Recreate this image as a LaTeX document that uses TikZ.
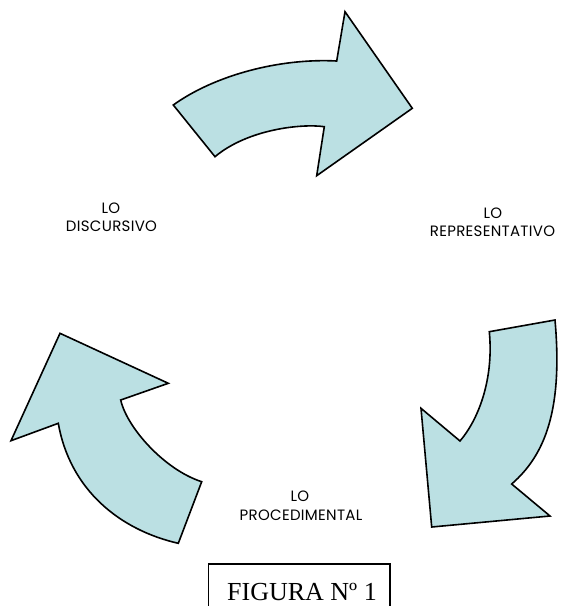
\documentclass[tikz,border=0pt]{standalone}
\usepackage{fontspec}
\newfontfamily\labelfont[LetterSpace=2]{Poppins}
\newfontfamily\captionfont{Liberation Serif}
\begin{document}
\begin{tikzpicture}[x=1pt,y=-1pt,
  cyclearrow/.style={draw=black,line width=1.6pt,fill=arrowfill,line join=miter},
  steplabel/.style={font=\labelfont\fontsize{15}{18}\selectfont,anchor=base,inner sep=0pt},
  captiontext/.style={font=\captionfont\fontsize{26}{30}\selectfont,anchor=base,inner sep=0pt}]
\definecolor{arrowfill}{RGB}{187,224,227}
\useasboundingbox (0,0) rectangle (562,606);

% upper arrow: from "lo discursivo" towards "lo representativo"
\path[cyclearrow] (173.3,105)
  .. controls (215,75) and (280,58) .. (336.7,61)
  -- (345,11.7) -- (412.3,108.3) -- (316.7,175.7) -- (324.3,126.7)
  .. controls (302,123.5) and (248,129) .. (215,156.7) -- cycle;

% right arrow: from "lo representativo" down towards "lo procedimental"
\path[cyclearrow] (555,320) -- (489.3,331.7)
  .. controls (494,380) and (478,420) .. (460,441)
  -- (421,408.3) -- (431.7,527) -- (550,516) -- (511.7,484)
  .. controls (545,455) and (563,410) .. cycle;

% left arrow: from "lo procedimental" up towards "lo discursivo"
\path[cyclearrow] (60,333.3) -- (168.3,383.3) -- (120.7,400)
  .. controls (127,428) and (165,470) .. (201.7,481.7)
  -- (178.3,543.3)
  .. controls (120,530) and (70,490) .. (58.3,423.3)
  -- (11,440.7) -- cycle;

% labels of the three stages
\node[steplabel] (disc1) at (111,213.3) {LO};
\node[steplabel] (disc2) at (111.5,231.7) {DISCURSIVO};
\node[steplabel] (repr1) at (493,218.3) {LO};
\node[steplabel] (repr2) at (492.5,236.7) {REPRESENTATIVO};
\node[steplabel] (proc1) at (300,501.7) {LO};
\node[steplabel] (proc2) at (301,520.5) {PROCEDIMENTAL};

% caption box, open at the bottom
\draw[line width=1.2pt] (208.3,606) -- (208.3,564) -- (390,564) -- (390,606);
\node[captiontext] (caption) at (302,600) {FIGURA Nº 1};
\end{tikzpicture}
\end{document}
